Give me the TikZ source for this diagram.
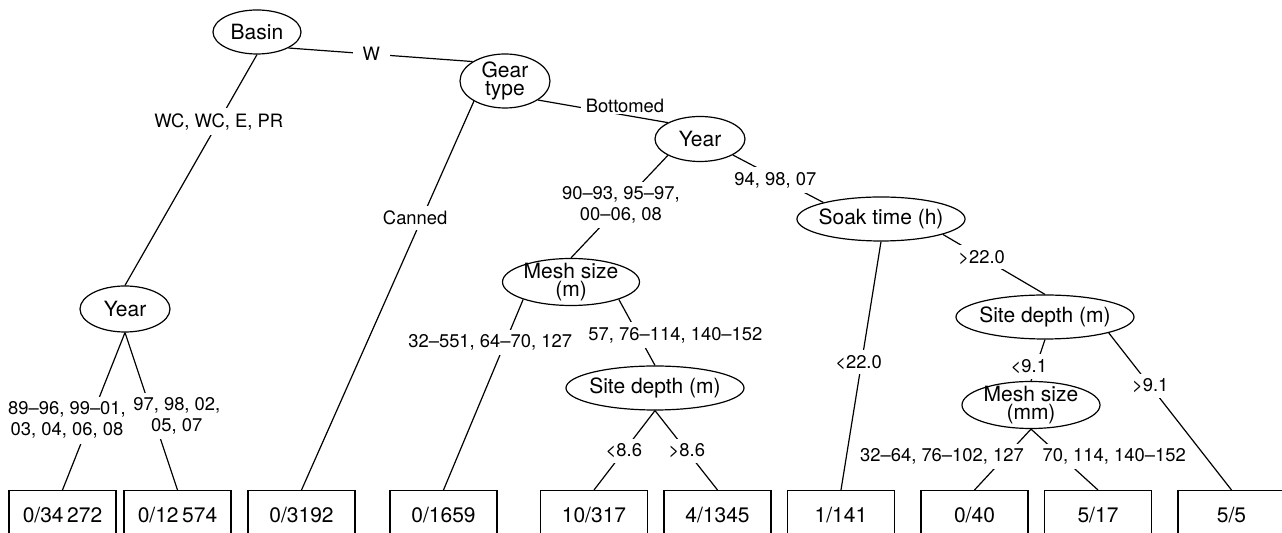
\documentclass[tikz,border=0pt]{standalone}
\usepackage{fontspec}
\setmainfont{TeX Gyre Heros}
\usetikzlibrary{shapes.geometric}

\begin{document}
\begin{tikzpicture}[
  x=0.5pt, y=-0.5pt,
  line width=0.6pt,
  split/.style={draw, ellipse, align=center, inner xsep=-1.5pt, inner ysep=-1.5pt,
                font=\fontsize{10.5}{9.3}\selectfont},
  leaf/.style={draw, rectangle, anchor=north, minimum width=53.5pt, minimum height=24.5pt,
               font=\fontsize{10.5}{12}\selectfont},
  lab/.style={fill=white, inner sep=2.5pt, align=center, font=\fontsize{9.2}{10.5}\selectfont},
  edge/.style={line width=0.6pt}
]
\useasboundingbox (0,0) rectangle (1282,533);

% split nodes
\node[split, minimum width=44pt, minimum height=22pt] (basin) at (257,32) {Basin};
\node[split, minimum width=45pt, minimum height=27pt] (gear) at (505,81) {Gear\\type};
\node[split, minimum width=45pt, minimum height=22.5pt] (yr2) at (700,139) {Year};
\node[split, minimum width=84pt, minimum height=22pt] (soak) at (881,219) {Soak time (h)};
\node[split, minimum width=89pt, minimum height=22pt] (sdR) at (1045,317) {Site depth (m)};
\node[split, minimum width=69pt, minimum height=23.5pt] (mmR) at (1031,405) {Mesh size\\(mm)};
\node[split, minimum width=45pt, minimum height=23pt] (yr1) at (125,309) {Year};
\node[split, minimum width=68.5pt, minimum height=23.5pt] (mmL) at (571,282) {Mesh size\\(m)};
\node[split, minimum width=89pt, minimum height=22pt] (sdL) at (655,388) {Site depth (m)};

% terminal nodes
\node[leaf] (b1) at (62.5,490) {0/34\,272};
\node[leaf] (b2) at (177.5,490) {0/12\,574};
\node[leaf] (b3) at (301.5,490) {0/3192};
\node[leaf] (b4) at (443.5,490) {0/1659};
\node[leaf] (b5) at (594,490) {10/317};
\node[leaf] (b6) at (717.5,490) {4/1345};
\node[leaf] (b7) at (841,490) {1/141};
\node[leaf] (b8) at (974.5,490) {0/40};
\node[leaf] (b9) at (1098,490) {5/17};
\node[leaf] (b10) at (1231.5,490) {5/5};

% splits
\draw[edge] (basin.-27) -- node[lab, pos=0.45, inner xsep=5pt] (lW) {W} (gear.149);
\draw[edge] (basin.south) -- node[lab, pos=0.29] (lWC) {WC, WC, E, PR} (yr1.north);
\draw[edge] (gear.213) -- node[lab, pos=0.3, xshift=-3.5pt] (lcan) {Canned} (b3.north);
\draw[edge] (gear.-30) -- node[lab, pos=0.67, yshift=4.7pt, inner ysep=0.5pt] (lbot) {Bottomed} (yr2.153);
\draw[edge] (yr2.207) -- node[lab, pos=0.485] (lyrA) {90–93, 95–97,\\00–06, 08} (mmL.north);
\draw[edge] (yr2.-26) -- node[lab, pos=0.47, yshift=-1.5pt] (lyrB) {94, 98, 07} (soak.164);
\draw[edge] (soak.south) -- node[lab, pos=0.486, xshift=-1.5pt] (lsk1) {<22.0} (b7.north);
\draw[edge] (soak.-14) -- node[lab, pos=0.38] (lsk2) {>22.0} (sdR.north);
\draw[edge] (sdR.south) -- node[lab, pos=0.65, xshift=-3.5pt] (lsd1) {<9.1} (mmR.north);
\draw[edge] (sdR.-14) -- node[lab, pos=0.338] (lsd2) {>9.1} (b10.north);
\draw[edge] (mmR.south) -- node[lab, pos=0.45, xshift=-31.8pt] (lmm1) {32–64, 76–102, 127} (b8.north);
\draw[edge] (mmR.south) -- node[lab, pos=0.45, xshift=26.5pt] (lmm2) {70, 114, 140–152} (b9.north);
\draw[edge] (mmL.200) -- node[lab, pos=0.226, xshift=-7.5pt] (lms1) {32–551, 64–70, 127} (b4.north);
\draw[edge] (mmL.-20) -- node[lab, pos=0.537, xshift=18.6pt] (lms2) {57, 76–114, 140–152} (sdL.north);
\draw[edge] (sdL.south) -- node[lab, pos=0.51] (ldp1) {<8.6} (b5.north);
\draw[edge] (sdL.south) -- node[lab, pos=0.51] (ldp2) {>8.6} (b6.north);
\draw[edge] (yr1.south) -- node[lab, pos=0.557, xshift=-11.6pt] (lyr1) {89–96, 99–01,\\03, 04, 06, 08} (b1.north);
\draw[edge] (yr1.south) -- node[lab, pos=0.53, xshift=12pt] (lyr2) {97, 98, 02,\\05, 07} (b2.north);
\end{tikzpicture}
\end{document}
